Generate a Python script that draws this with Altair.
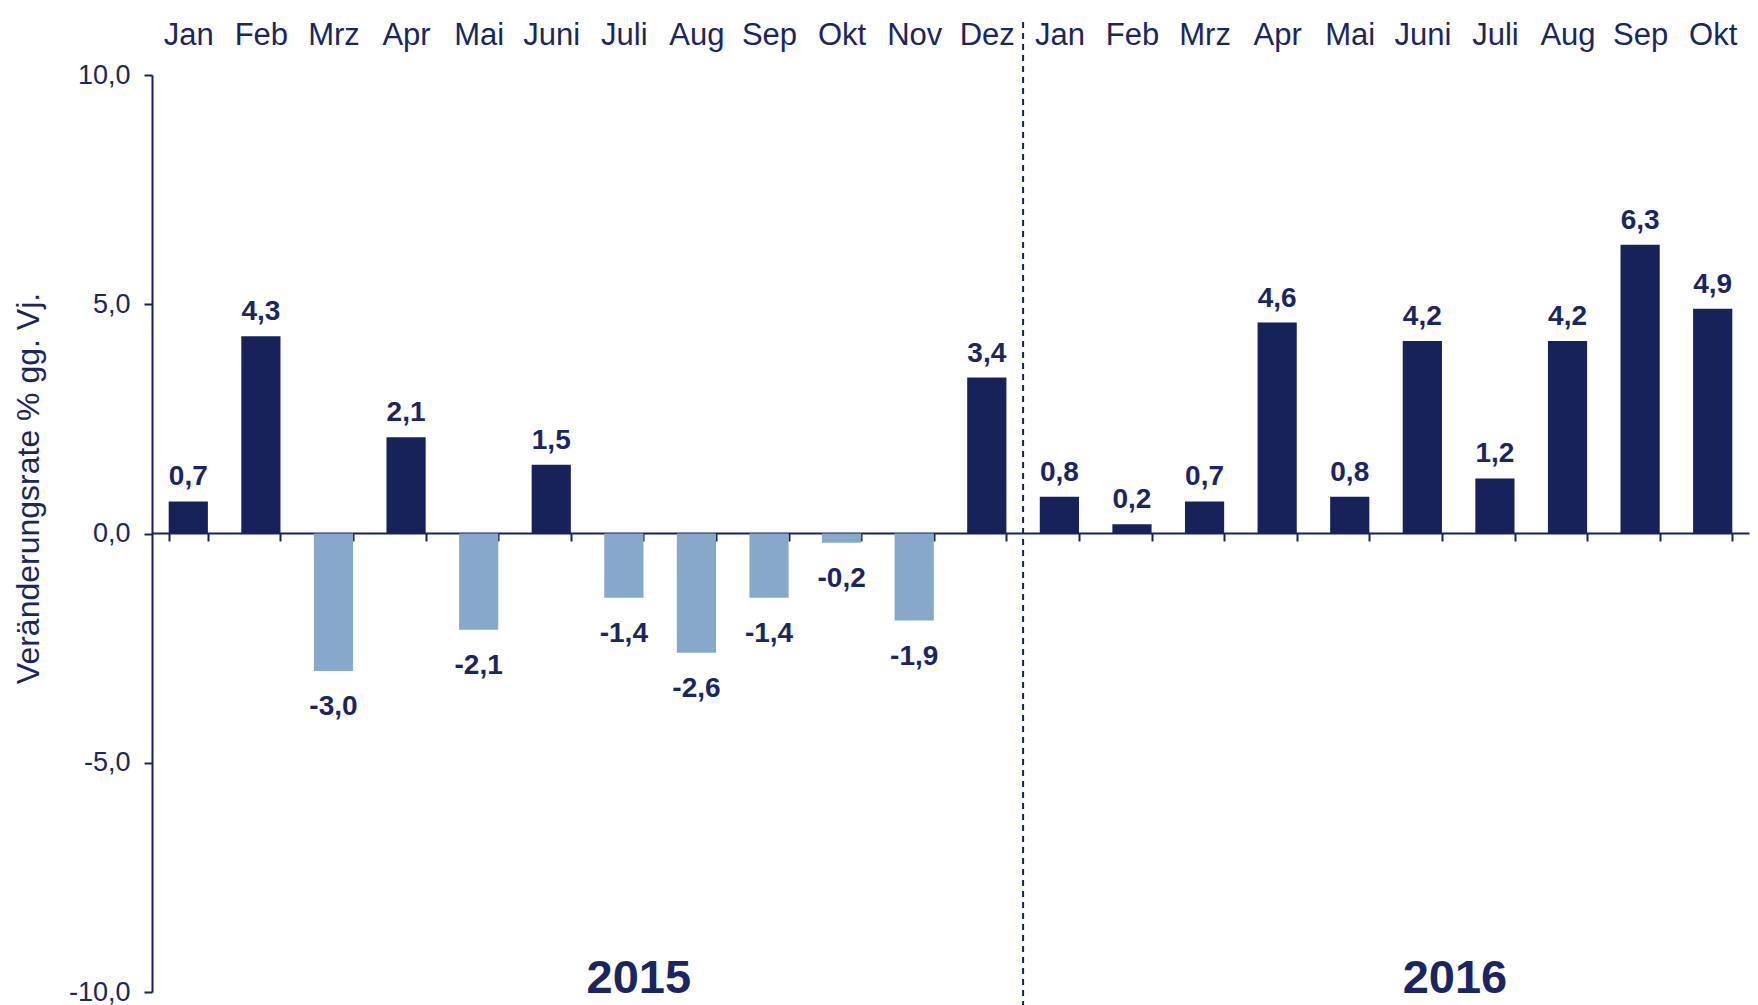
import altair as alt
import pandas as pd

months_2015 = ["Jan", "Feb", "Mrz", "Apr", "Mai", "Juni", "Juli", "Aug", "Sep", "Okt", "Nov", "Dez"]
values_2015 = [0.7, 4.3, -3.0, 2.1, -2.1, 1.5, -1.4, -2.6, -1.4, -0.2, -1.9, 3.4]
months_2016 = ["Jan", "Feb", "Mrz", "Apr", "Mai", "Juni", "Juli", "Aug", "Sep", "Okt"]
values_2016 = [0.8, 0.2, 0.7, 4.6, 0.8, 4.2, 1.2, 4.2, 6.3, 4.9]
years = ["2015", "2016"]
year_anchor_month = ["Juli", "Juli"]
year_dx = [15, -40]
y_ticks = [-10, -5, 0, 5, 10]
y_title = "Veränderungsrate % gg. Vj."

NAVY = "#18225A"
LIGHT = "#88A8C9"
TEXT = "#1B2660"
FONT = "Liberation Sans"

rows = []
for yr, ms, vs in [("2015", months_2015, values_2015), ("2016", months_2016, values_2016)]:
    for m, v in zip(ms, vs):
        rows.append({
            "key": f"{yr}|{m}",
            "month": m,
            "year": yr,
            "value": v,
            "sign": "pos" if v >= 0 else "neg",
            "label": f"{v:.1f}".replace(".", ","),
        })
df = pd.DataFrame(rows)
keys = list(df["key"])
n_total = len(keys)

xscale = alt.Scale(domain=keys, paddingInner=0.46, paddingOuter=0.23)
yscale = alt.Scale(domain=[-10, 10], nice=False, zero=False)

base = alt.Chart(df)

bars = base.mark_bar().encode(
    x=alt.X("key:N", scale=xscale, sort=keys, axis=alt.Axis(
        orient="bottom", labels=False, title=None, offset=-459,
        domain=True, domainColor=NAVY, domainWidth=2,
        ticks=True, tickBand="extent", tickSize=8, tickWidth=2, tickColor=NAVY,
        grid=False)),
    y=alt.Y("value:Q", scale=yscale, axis=alt.Axis(
        orient="left", values=y_ticks,
        labelExpr="replace(replace(format(datum.value, '.1f'), '.', ','), '\u2212', '-')",
        labelFontSize=27, labelColor=TEXT, labelPadding=14, labelFont=FONT,
        domainColor=NAVY, domainWidth=2, tickColor=NAVY, tickWidth=2, tickSize=8,
        grid=False, title=y_title, titleFontSize=32, titleFontWeight="normal",
        titleColor=TEXT, titleFont=FONT, titleX=-124, titleY=413,
        titleAlign="center", titleBaseline="middle")),
    color=alt.Color("sign:N", scale=alt.Scale(domain=["pos", "neg"], range=[NAVY, LIGHT]), legend=None),
)

pos_labels = base.transform_filter("datum.value >= 0").mark_text(
    baseline="alphabetic", dy=-16, fontSize=28, fontWeight="bold", color=TEXT, font=FONT
).encode(
    x=alt.X("key:N", scale=xscale, sort=keys, axis=alt.Axis(
        orient="top", title=None, domain=False, ticks=False, tickSize=0,
        labelExpr="split(datum.value, '|')[1]", labelFontSize=31, labelColor=TEXT,
        labelFont=FONT, labelBaseline="alphabetic", labelPadding=31, labelAngle=0, grid=False)),
    y=alt.Y("value:Q", scale=yscale, axis=None),
    text="label:N",
)

neg_labels = base.transform_filter("datum.value < 0").mark_text(
    baseline="alphabetic", dy=44, fontSize=28, fontWeight="bold", color=TEXT, font=FONT
).encode(
    x=alt.X("key:N", scale=xscale, sort=keys, axis=None),
    y=alt.Y("value:Q", scale=yscale, axis=None),
    text="label:N",
)

divider = alt.Chart(pd.DataFrame({"pos": [len(months_2015)]})).mark_rule(
    color=NAVY, strokeWidth=2, strokeDash=[6, 5]
).encode(
    x=alt.X("pos:Q", scale=alt.Scale(domain=[0, n_total], nice=False, zero=False), axis=None),
    y=alt.value(-53),
    y2=alt.value(930),
)

year_layers = []
for yr, m, dx in zip(years, year_anchor_month, year_dx):
    ydf = pd.DataFrame({"key": [f"{yr}|{m}"], "text": [yr], "pos": [-10]})
    year_layers.append(
        alt.Chart(ydf).mark_text(
            baseline="alphabetic", dy=1, dx=dx, fontSize=47, fontWeight="bold", color=TEXT, font=FONT
        ).encode(
            x=alt.X("key:N", scale=xscale, sort=keys, axis=None),
            y=alt.Y("pos:Q", scale=yscale, axis=None),
            text="text:N",
        )
    )

chart = alt.layer(bars, pos_labels, neg_labels, divider, *year_layers).resolve_scale(
    x="independent"
).resolve_axis(
    x="independent", y="independent"
).properties(
    width=1597, height=917,
    autosize=alt.AutoSizeParams(type="none"),
    padding={"left": 152, "top": 75, "right": 9, "bottom": 13},
    background="white",
).configure(font=FONT).configure_view(stroke=None)

chart.save("out.html", embed_options={"renderer": "svg", "actions": False})
